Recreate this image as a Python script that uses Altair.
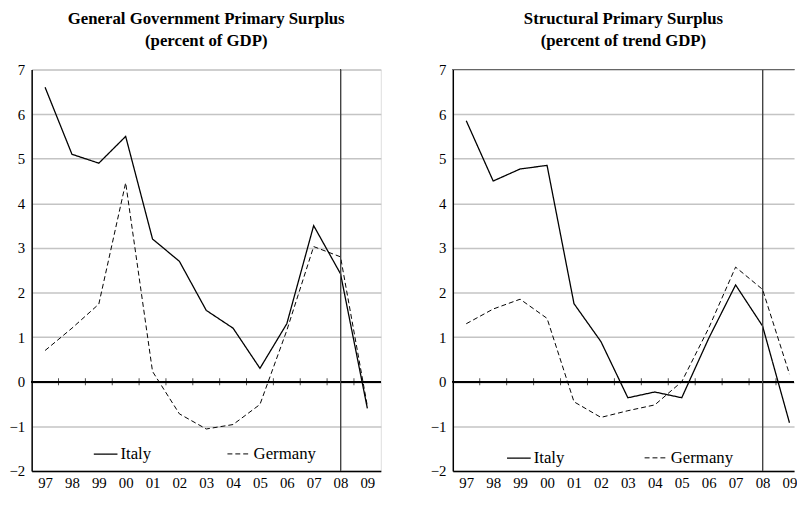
import altair as alt
import pandas as pd

years = ["97", "98", "99", "00", "01", "02", "03", "04", "05", "06", "07", "08", "09"]
idx = list(range(len(years)))
boundaries = [i + 0.5 for i in range(len(years) - 1)]

gg_italy = [6.6, 5.1, 4.9, 5.5, 3.2, 2.7, 1.6, 1.2, 0.3, 1.3, 3.5, 2.42, -0.6]
gg_germany = [0.7, 1.2, 1.74, 4.46, 0.23, -0.72, -1.06, -0.96, -0.51, 1.15, 3.03, 2.8, -0.55]
sp_italy = [5.85, 4.5, 4.77, 4.85, 1.75, 0.9, -0.36, -0.23, -0.36, 0.97, 2.17, 1.25, -0.92]
sp_germany = [1.3, 1.63, 1.85, 1.42, -0.45, -0.8, -0.65, -0.52, 0.0, 1.2, 2.57, 2.07, 0.17]

series = ["Italy", "Germany"]
FONT = "Liberation Serif"
label_expr = "[" + ",".join("'%s'" % y for y in years) + "][datum.value]"

xaxis = alt.Axis(values=idx, labelExpr=label_expr, ticks=False, grid=False,
                 domainColor="black", domainWidth=1.5, labelFont=FONT, labelColor="black",
                 labelFontSize=15, labelPadding=5, labelOverlap=False, title=None)
yaxis = alt.Axis(values=list(range(-2, 8)), ticks=False, grid=True,
                 gridColor="#c4c4c4", gridWidth=1.5, domainColor="black",
                 domainWidth=1.5, labelFont=FONT, labelColor="black",
                 labelFontSize=15, labelPadding=7, labelOverlap=False, title=None)
ys = alt.Scale(domain=[-2, 7], nice=False, zero=False)


def panel(title_lines, italy, germany, width, height, x_max, legend_x, legend_y, col_pad, frame):
    xs = alt.Scale(domain=[-0.5, x_max], nice=False, zero=False)
    df = pd.DataFrame({
        "i": idx + idx,
        "v": italy + germany,
        "s": ["Italy"] * len(idx) + ["Germany"] * len(idx),
    })
    lines = alt.Chart(df).mark_line(color="black", clip=True).encode(
        x=alt.X("i:Q", scale=xs, axis=xaxis),
        y=alt.Y("v:Q", scale=ys, axis=yaxis),
        strokeDash=alt.StrokeDash("s:N", scale=alt.Scale(domain=series, range=[[1, 0], [5, 3]]),
                                  legend=alt.Legend(
                                      orient="none", legendX=legend_x, legendY=legend_y,
                                      direction="horizontal", title=None,
                                      symbolType="stroke", symbolSize=576,
                                      symbolStrokeWidth=1.2, symbolStrokeColor="black",
                                      labelFont=FONT, labelFontSize=17, labelColor="black",
                                      labelOffset=2, columnPadding=col_pad, padding=0)),
        strokeWidth=alt.StrokeWidth("s:N", scale=alt.Scale(domain=series, range=[1.3, 1.0]), legend=None),
        detail="s:N",
    )
    zero = alt.Chart(df).mark_rule(color="black", strokeWidth=1.2).encode(
        y=alt.YDatum(0, scale=ys, axis=yaxis))
    ticks = alt.Chart(pd.DataFrame({"b": boundaries})).mark_tick(
        orient="vertical", size=7, thickness=1, color="black").encode(
        x=alt.X("b:Q", scale=xs, axis=xaxis), y=alt.YDatum(0, scale=ys, axis=yaxis))
    vline = alt.Chart(df).mark_rule(color="#444444", strokeWidth=1).encode(
        x=alt.XDatum(11, scale=xs, axis=xaxis))
    layers = [lines, zero, ticks, vline]
    props = dict(width=width, height=height,
                 title=alt.TitleParams(title_lines, font=FONT, fontSize=17, fontWeight="bold",
                                       lineHeight=22, anchor="middle", color="black", offset=13))
    if not frame:
        top = alt.Chart(df).mark_rule(color="#666666", strokeWidth=1.2).encode(
            y=alt.YDatum(7, scale=ys, axis=yaxis))
        layers.append(top)
        props["view"] = alt.ViewBackground(stroke=None)
    return alt.layer(*layers).properties(**props)


left = panel(["General Government Primary Surplus", "(percent of GDP)"],
             gg_italy, gg_germany, 354, 407, 12.5, 62, 377, 74, True)
right = panel(["Structural Primary Surplus", "(percent of trend GDP)"],
              sp_italy, sp_germany, 346, 407, 12.17, 54, 381, 78, False)

chart = alt.hconcat(left, right, spacing=48).resolve_legend(
    strokeDash="independent").resolve_scale(strokeDash="independent", strokeWidth="independent").properties(
    padding={"left": 0, "top": -2, "right": 0, "bottom": -3}
).configure_view(stroke="#555555", strokeWidth=1.5).configure_axis(
    labelFont=FONT, labelFontSize=15, labelColor="black").configure(background="white")

chart.save("out.html", embed_options={"renderer": "svg", "actions": False})
